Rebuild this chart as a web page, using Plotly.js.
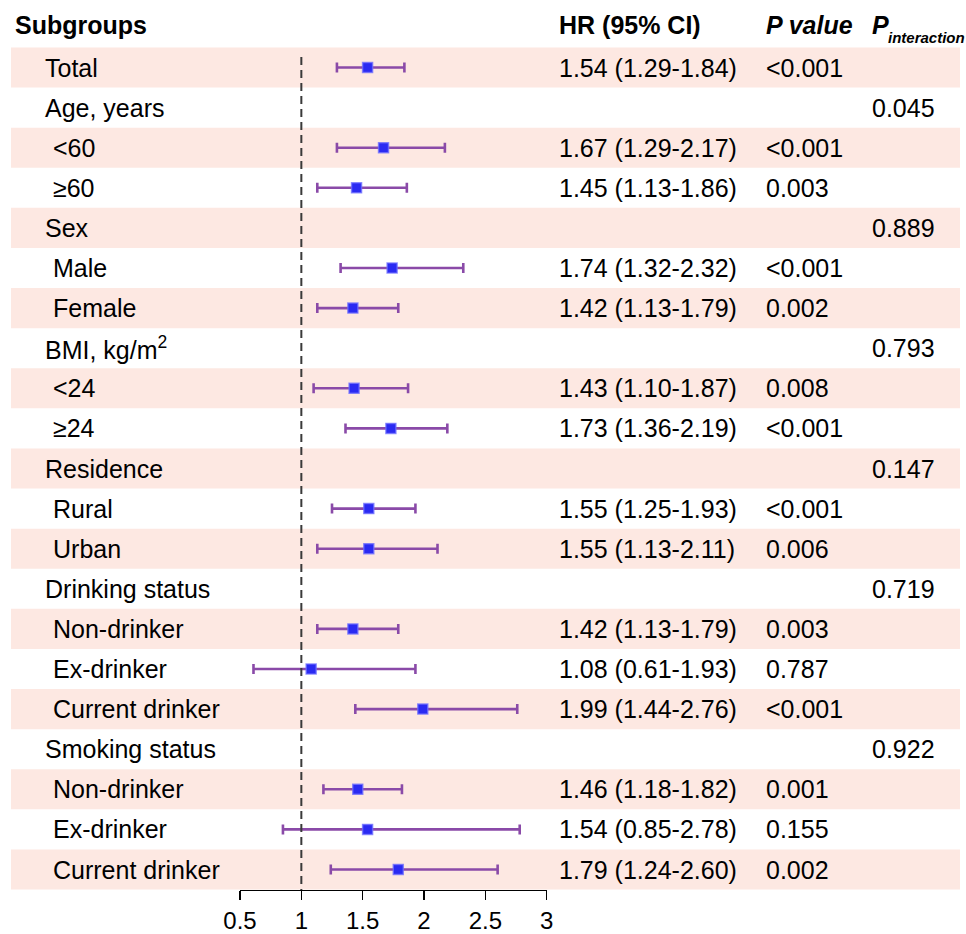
<!DOCTYPE html>
<html>
<head>
<meta charset="utf-8">
<script src="https://cdn.plot.ly/plotly-3.0.1.min.js"></script>
<style>html,body{margin:0;padding:0;background:#fff;}#chart{width:966px;height:934px;}</style>
</head>
<body>
<div id="chart"></div>
<script>
// ---- data ----
const subgroups = ["Total","Age, years","<60","≥60","Sex","Male","Female","BMI, kg/m<sup>2</sup>","<24","≥24","Residence","Rural","Urban","Drinking status","Non-drinker","Ex-drinker","Current drinker","Smoking status","Non-drinker","Ex-drinker","Current drinker"];
const level = [0,0,1,1,0,1,1,0,1,1,0,1,1,0,1,1,1,0,1,1,1];
const hr = [1.54,null,1.67,1.45,null,1.74,1.42,null,1.43,1.73,null,1.55,1.55,null,1.42,1.08,1.99,null,1.46,1.54,1.79];
const ciLow = [1.29,null,1.29,1.13,null,1.32,1.13,null,1.10,1.36,null,1.25,1.13,null,1.13,0.61,1.44,null,1.18,0.85,1.24];
const ciHigh = [1.84,null,2.17,1.86,null,2.32,1.79,null,1.87,2.19,null,1.93,2.11,null,1.79,1.93,2.76,null,1.82,2.78,2.60];
const pValue = ["<0.001","","<0.001","0.003","","<0.001","0.002","","0.008","<0.001","","<0.001","0.006","","0.003","0.787","<0.001","","0.001","0.155","0.002"];
const pInteraction = ["","0.045","","","0.889","","","0.793","","","0.147","","","0.719","","","","0.922","","",""];
const headers = ["Subgroups","HR (95% CI)","P value","P","interaction"];
const xTicks = [0.5,1,1.5,2,2.5,3];

// ---- layout helpers ----
const W = 966, H = 934;
const rowIdx = subgroups.map((_, i) => i);
const FONT = "Liberation Sans, Arial, sans-serif";
const FS = 25;
const shade = "#fde8e2";

const ptsX = [], ptsY = [], errP = [], errM = [];
rowIdx.forEach(i => {
  if (hr[i] !== null) {
    ptsX.push(hr[i]); ptsY.push(i);
    errP.push(ciHigh[i] - hr[i]); errM.push(hr[i] - ciLow[i]);
  }
});

const trace = {
  type: "scatter", mode: "markers",
  x: ptsX, y: ptsY,
  marker: {symbol: "square", size: 10, color: "#2a2af2", line: {color: "rgba(110,110,255,0.75)", width: 1.5}},
  error_x: {type: "data", symmetric: false, array: errP, arrayminus: errM, color: "#8a4aa8", thickness: 2.6, width: 5},
  hoverinfo: "skip", showlegend: false, cliponaxis: false
};

const shapes = [];
rowIdx.forEach(i => {
  if (i % 2 === 0) {
    shapes.push({type: "rect", layer: "below", xref: "paper", yref: "y",
      x0: 11 / W, x1: 960 / W, y0: i - 0.5, y1: i + 0.5,
      fillcolor: shade, line: {width: 0}});
  }
});
const yBottom = (890 - 67.5) / 40.1;
const yTop = -67.5 / 40.1;
shapes.push({type: "line", xref: "x", yref: "y", x0: 1, x1: 1, y0: -0.26, y1: yBottom,
  line: {color: "#3a3a3a", width: 2, dash: "8px,5px"}});

const ann = [];
const txt = (x, y, text, size) => ({xref: "paper", yref: "y", x: x / W, y: y, text: text,
  xanchor: "left", yanchor: "middle", showarrow: false,
  font: {family: FONT, size: size || FS, color: "#000"}});
const hy = -1.06;
ann.push(txt(13, hy, "<b>" + headers[0] + "</b>"));
ann.push(txt(557, hy, "<b>" + headers[1] + "</b>"));
ann.push(txt(764, hy, "<b><i>" + headers[2] + "</i></b>"));
ann.push(txt(870, hy, "<b><i>" + headers[3] + "</i></b>"));
ann.push(txt(886, hy + 0.3, "<b><i>" + headers[4] + "</i></b>", 15));
rowIdx.forEach(i => {
  ann.push(txt(43 + level[i] * 8, i, subgroups[i]));
  if (hr[i] !== null) {
    ann.push(txt(557, i, hr[i].toFixed(2) + " (" + ciLow[i].toFixed(2) + "-" + ciHigh[i].toFixed(2) + ")"));
  }
  if (pValue[i]) ann.push(txt(764, i, pValue[i]));
  if (pInteraction[i]) ann.push(txt(870, i, pInteraction[i]));
});

const layout = {
  width: W, height: H,
  margin: {l: 0, r: 0, t: 0, b: 0},
  paper_bgcolor: "#fff", plot_bgcolor: "rgba(0,0,0,0)",
  font: {family: FONT, size: FS, color: "#000"},
  xaxis: {domain: [240 / W, 546.7 / W], range: [0.5, 3], tickvals: xTicks,
    ticktext: xTicks.map(v => String(v)),
    showgrid: false, zeroline: false, showline: true, linecolor: "#000", linewidth: 1.3,
    ticks: "outside", ticklen: 9, tickwidth: 1.3, tickcolor: "#000",
    tickfont: {family: FONT, size: 24, color: "#000"}, fixedrange: true},
  yaxis: {domain: [1 - 890 / H, 1], range: [yBottom, yTop], visible: false, fixedrange: true},
  shapes: shapes, annotations: ann, showlegend: false
};

Plotly.newPlot("chart", [trace], layout, {displayModeBar: false, staticPlot: true});
</script>
</body>
</html>
